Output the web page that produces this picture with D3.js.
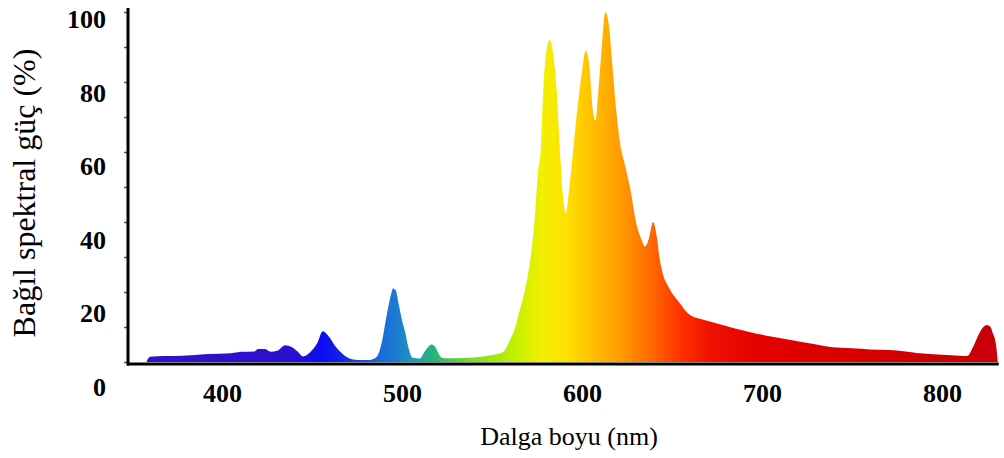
<!DOCTYPE html>
<html lang="tr">
<head>
    <meta charset="UTF-8">
    <title>Bağıl spektral güç</title>
    <script src="https://d3js.org/d3.v7.min.js"></script>
    <style>
        body { margin: 0; background: #fff; }
        svg text { font-family: "Liberation Serif", "Times New Roman", serif; fill: #000; }
        .tick-label { font-weight: bold; font-size: 26px; }
        .axis-title { font-size: 26px; }
    </style>
</head>
<body>
    <svg id="chart"></svg>

    <script>
        // spectrum (nm, relative power %)
        const wavelengths = [358, 360, 368, 378, 392, 405, 411, 418, 420, 424, 427, 431, 435, 439, 442, 445,
            449, 453, 456, 459, 463, 466, 469, 472, 476, 482, 486, 488, 489.5, 491, 492.5, 494, 495, 496.5,
            498, 500, 502, 503.5, 506, 510, 512, 514.5, 516.5, 518.5, 521, 523, 530, 540, 550, 556, 560, 563,
            565, 567, 570, 572, 574, 575.5, 577, 578.5, 580, 582, 584, 586, 588, 589.5, 591, 593, 595, 598,
            600, 602, 604, 606, 607.5, 609, 611, 613, 615, 617, 619, 621, 624, 627, 630, 633, 635, 637, 639.5,
            641.5, 643, 645, 648, 654, 660, 668, 675, 685, 693, 705, 716, 728, 738, 750, 760, 771, 786, 800,
            810, 814, 817, 819, 821, 823, 825, 827, 828, 830, 831];
        const power = [0, 1.5, 1.7, 1.8, 2.3, 2.5, 2.9, 3.0, 3.7, 3.7, 2.9, 3.3, 4.8, 4.2, 3.0, 1.6,
            2.8, 5.5, 8.8, 7.5, 4.5, 2.8, 1.5, 0.8, 0.6, 0.6, 1.5, 4.0, 7.5, 12, 16, 19.5, 21, 20.5,
            17, 12, 8, 4.3, 1.2, 1.0, 2.5, 4.3, 5.0, 4.3, 1.8, 1.1, 1.1, 1.3, 2.0, 2.8, 6.3, 10,
            14, 17.7, 25, 32, 43, 54, 60, 78, 88, 92, 88, 77, 58, 47, 42.5, 50, 60, 75,
            83, 89, 85, 72, 69, 77, 90, 100, 96, 84, 72, 63, 56, 49, 40, 35, 33, 35, 40,
            36, 30, 25, 21.5, 17, 13.4, 12, 11, 9.6, 8.6, 7.3, 6.3, 5.2, 4.3, 3.9, 3.6, 3.4, 2.6, 2.1,
            1.8, 1.7, 4, 6.3, 8.5, 10, 10.6, 10, 8.6, 5, 0];

        const xTicks = [400, 500, 600, 700, 800];
        const yTicks = [0, 20, 40, 60, 80, 100];
        const yMinorTicks = [0, 10, 20, 30, 40, 50, 60, 70, 80, 90, 100];

        // colour of the light along the axis
        const colorStops = [
            [358, "#3412c4"], [440, "#2a10d0"], [456, "#0a0cf2"], [470, "#1430e0"], [488, "#1a6ad8"],
            [498, "#1a80d0"], [508, "#1aa0b0"], [517, "#22b47a"], [530, "#58cc40"], [545, "#8ae41a"],
            [562, "#c0f000"], [578, "#f2f000"], [592, "#ffe000"], [606, "#ffbe00"], [622, "#ff9a00"],
            [640, "#ff6400"], [656, "#ff2e00"], [672, "#f01000"], [700, "#e40000"], [800, "#cc0000"],
            [831, "#c8000c"]
        ];

        const width = 1004, height = 458;
        const svg = d3.select("#chart").attr("width", width).attr("height", height);

        const x = d3.scaleLinear().domain([400, 800]).range([222, 942]);
        const y = d3.scaleLinear().domain([0, 100]).range([362, 12]);
        // the printed numbers sit a little lower than the tick marks
        const yLabel = d3.scaleLinear().domain([0, 100]).range([396, 28]);

        const grad = svg.append("defs").append("linearGradient")
            .attr("id", "spec")
            .attr("gradientUnits", "userSpaceOnUse")
            .attr("x1", x(colorStops[0][0])).attr("x2", x(colorStops[colorStops.length - 1][0]))
            .attr("y1", 0).attr("y2", 0);
        const span = colorStops[colorStops.length - 1][0] - colorStops[0][0];
        grad.selectAll("stop").data(colorStops).enter().append("stop")
            .attr("offset", d => (d[0] - colorStops[0][0]) / span)
            .attr("stop-color", d => d[1]);

        const data = wavelengths.map((w, i) => ({ w: w, p: power[i] }));
        const area = d3.area()
            .x(d => x(d.w))
            .y0(y(0))
            .y1(d => y(d.p))
            .curve(d3.curveMonotoneX);

        svg.append("path")
            .datum(data)
            .attr("d", area)
            .attr("fill", "url(#spec)");

        // y axis: small ticks, no labels from the axis itself
        const yAxis = svg.append("g")
            .attr("transform", "translate(128,0)")
            .call(d3.axisLeft(y).tickValues(yMinorTicks).tickSize(4).tickFormat(""));
        yAxis.select(".domain").remove();
        yAxis.selectAll(".tick line").attr("stroke", "#555").attr("stroke-width", 1.5);

        svg.append("line")
            .attr("x1", 128).attr("x2", 128)
            .attr("y1", 8).attr("y2", 365.5)
            .attr("stroke", "#000").attr("stroke-width", 3);

        svg.selectAll(".ylab")
            .data(yTicks)
            .enter().append("text")
            .attr("class", "tick-label ylab")
            .attr("x", 106)
            .attr("y", d => yLabel(d))
            .attr("text-anchor", "end")
            .text(d => d);

        // x axis
        const xAxis = svg.append("g")
            .attr("transform", "translate(0,364)")
            .call(d3.axisBottom(x).tickValues(xTicks).tickSize(0).tickPadding(0));
        xAxis.select(".domain").remove();
        xAxis.selectAll(".tick text")
            .attr("class", "tick-label")
            .attr("dy", null)
            .attr("y", 38);

        svg.append("line")
            .attr("x1", 127).attr("x2", x(831.5))
            .attr("y1", 364).attr("y2", 364)
            .attr("stroke", "#000").attr("stroke-width", 3);

        svg.append("text")
            .attr("class", "axis-title")
            .attr("x", 569)
            .attr("y", 445)
            .attr("text-anchor", "middle")
            .text("Dalga boyu (nm)");

        svg.append("text")
            .attr("class", "axis-title")
            .attr("transform", "translate(35,193) rotate(-90)")
            .attr("text-anchor", "middle")
            .style("font-size", "32px")
            .text("Bağıl spektral güç (%)");
    </script>
</body>
</html>
